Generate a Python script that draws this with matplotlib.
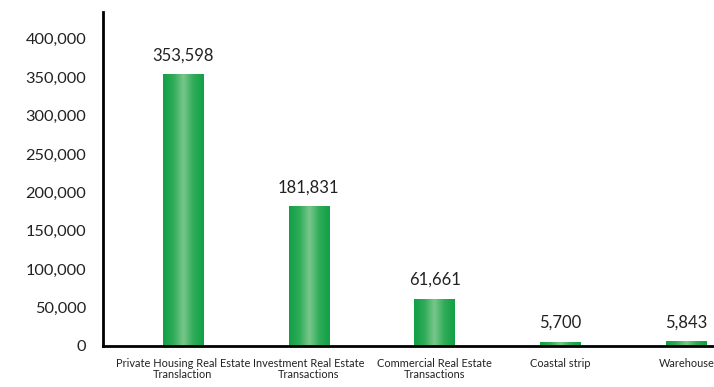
import matplotlib
matplotlib.use("Agg")
import matplotlib.pyplot as plt
import numpy as np
from matplotlib.colors import LinearSegmentedColormap
from matplotlib.ticker import FuncFormatter

plt.rcParams['font.family'] = ['Lato', 'DejaVu Sans']

categories = ["Private Housing Real Estate\nTranslaction",
              "Investment Real Estate\nTransactions",
              "Commercial Real Estate\nTransactions",
              "Coastal strip",
              "Warehouse"]
values = [353598, 181831, 61661, 5700, 5843]
y_ticks = [0, 50000, 100000, 150000, 200000, 250000, 300000, 350000, 400000]

fig = plt.figure(figsize=(7.14, 3.87), dpi=100)
ax = fig.add_axes([0.144, 0.106, 0.856, 0.863])

x = np.arange(len(categories))
bars = ax.bar(x, values, width=0.32, color="#1ca24c")

# horizontal gradient: dark green edges, light centre
green = LinearSegmentedColormap.from_list(
    "g", ["#12a046", "#2eab58", "#78c68a", "#2eab58", "#12a046"])
grad = np.linspace(0, 1, 256).reshape(1, -1)
for b in bars:
    x0, w, h = b.get_x(), b.get_width(), b.get_height()
    im = ax.imshow(grad, cmap=green, aspect="auto",
                   extent=[x0, x0 + w, 0, h], zorder=2)
    im.set_clip_path(b)

for xi, v in zip(x, values):
    ax.annotate(f"{v:,}", (xi, v), xytext=(0, 8), textcoords="offset points",
                ha="center", va="bottom", fontsize=12, color="#222222")

ax.set_xlim(-0.636, 4.22)
ax.set_ylim(0, 435000)
ax.set_yticks(y_ticks)
ax.yaxis.set_major_formatter(FuncFormatter(lambda v, p: f"{int(v):,}"))
ax.set_xticks(x)
ax.set_xticklabels(categories, fontsize=7.9, color="#222222", linespacing=1.0)
ax.tick_params(axis="y", length=0, labelsize=11.8, labelcolor="#222222", pad=12)
ax.tick_params(axis="x", length=0, pad=9)

for s in ["top", "right"]:
    ax.spines[s].set_visible(False)
for s in ["left", "bottom"]:
    ax.spines[s].set_linewidth(2)
    ax.spines[s].set_color("black")

fig.savefig("out.png", dpi=100)
